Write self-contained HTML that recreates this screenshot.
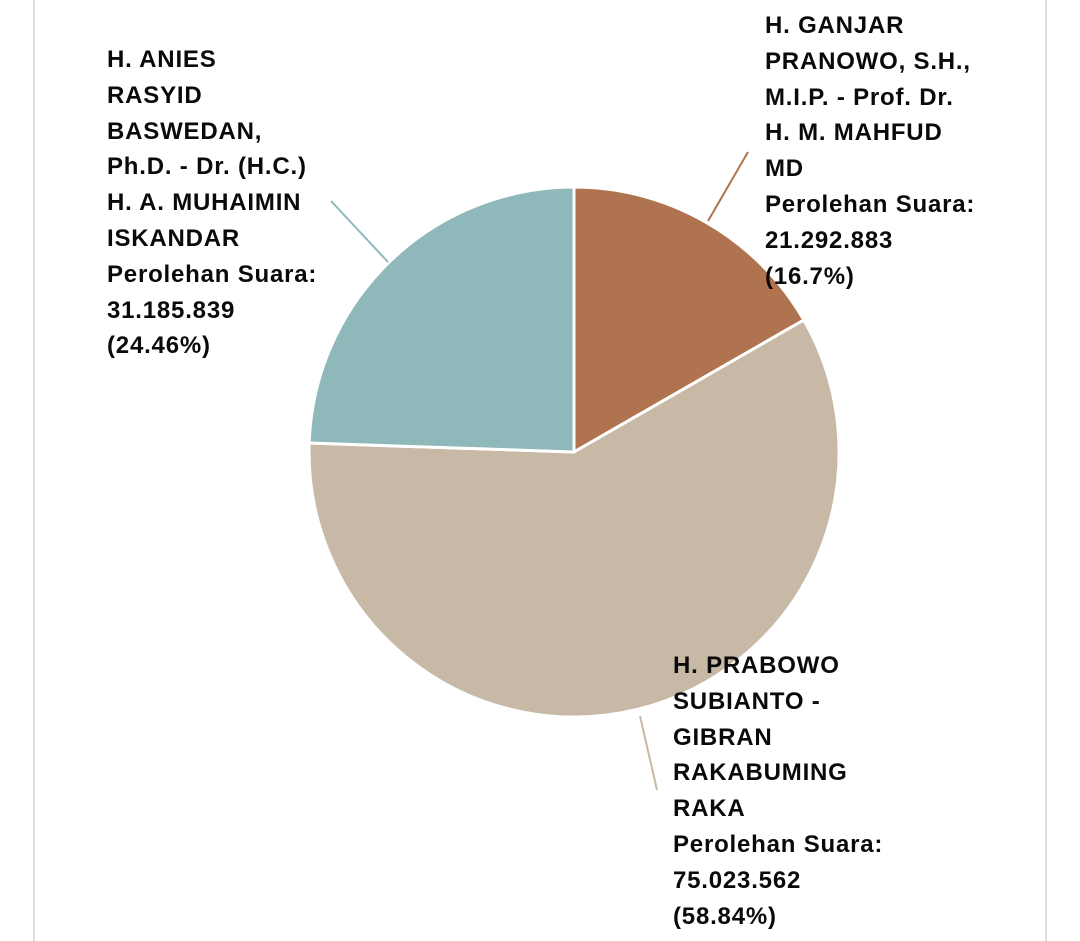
<!DOCTYPE html>
<html><head><meta charset="utf-8"><style>
html,body{margin:0;padding:0;background:#fff;width:1080px;height:941px;overflow:hidden}
.t{position:absolute;font-family:"Liberation Sans",sans-serif;font-weight:bold;font-size:24px;letter-spacing:0.8px;line-height:35.8px;color:#0a0a0a;white-space:nowrap}
</style></head><body>
<div style="position:absolute;left:33px;top:0;width:2px;height:941px;background:#ddd"></div>
<div style="position:absolute;left:1045px;top:0;width:2px;height:941px;background:#ddd"></div>
<svg width="1080" height="941" style="position:absolute;left:0;top:0">
<g stroke="#fff" stroke-width="3" stroke-linejoin="round">
<path d="M574,452 L574,187 A265,265 0 0 1 803.8,320 Z" fill="#b07350"/>
<path d="M574,452 L803.8,320 A265,265 0 1 1 309.2,443 Z" fill="#c8b8a6"/>
<path d="M574,452 L309.2,443 A265,265 0 0 1 574,187 Z" fill="#8fb8bb"/>
</g>
<line x1="331" y1="201" x2="388" y2="262" stroke="#8fb8bb" stroke-width="2"/>
<line x1="748" y1="152" x2="708" y2="221" stroke="#b07350" stroke-width="2"/>
<line x1="640" y1="716" x2="657" y2="790" stroke="#c8b8a6" stroke-width="2"/>
</svg>
<div class="t" style="left:107px;top:42px">H. ANIES<br>RASYID<br>BASWEDAN,<br>Ph.D. - Dr. (H.C.)<br>H. A. MUHAIMIN<br>ISKANDAR<br>Perolehan Suara:<br>31.185.839<br>(24.46%)</div>
<div class="t" style="left:765px;top:8px">H. GANJAR<br>PRANOWO, S.H.,<br>M.I.P. - Prof. Dr.<br>H. M. MAHFUD<br>MD<br>Perolehan Suara:<br>21.292.883<br>(16.7%)</div>
<div class="t" style="left:673px;top:648px">H. PRABOWO<br>SUBIANTO -<br>GIBRAN<br>RAKABUMING<br>RAKA<br>Perolehan Suara:<br>75.023.562<br>(58.84%)</div>
</body></html>
